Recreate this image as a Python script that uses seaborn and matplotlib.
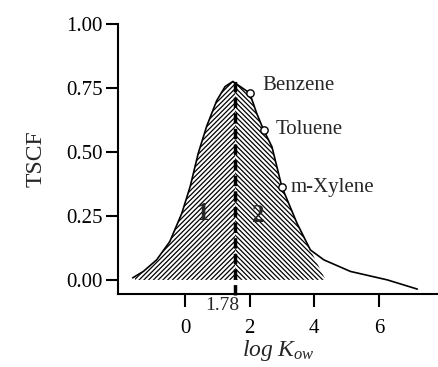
import numpy as np
import pandas as pd
import matplotlib
matplotlib.use('Agg')
import matplotlib.pyplot as plt
import seaborn as sns

# TSCF curve
logk_curve = [-1.62, -1.29, -0.88, -0.47, -0.10, 0.16, 0.41, 0.67, 0.98, 1.24,
              1.48, 1.71, 2.00, 2.22, 2.43, 2.69, 3.00, 3.47, 3.88, 4.30,
              5.12, 6.26, 7.19]
tscf_curve = [0.008, 0.033, 0.078, 0.150, 0.260, 0.365, 0.495, 0.600, 0.700, 0.755,
              0.775, 0.755, 0.730, 0.650, 0.586, 0.520, 0.362, 0.220, 0.117, 0.078,
              0.033, 0.000, -0.036]

# hatched (gaussian) area under the curve
logk_hatch = [-1.55, -1.29, -0.88, -0.47, -0.10, 0.16, 0.41, 0.67, 0.98, 1.24,
              1.48, 1.71, 2.00, 2.22, 2.43, 2.69, 3.00, 3.47, 3.88, 4.35]
tscf_hatch = [0.008, 0.033, 0.078, 0.150, 0.260, 0.365, 0.495, 0.600, 0.700, 0.755,
              0.775, 0.755, 0.730, 0.650, 0.586, 0.520, 0.362, 0.220, 0.117, 0.000]

compounds = ['Benzene', 'Toluene', 'm-Xylene']
logk_pts = [2.00, 2.43, 3.00]
tscf_pts = [0.730, 0.586, 0.362]

peak_x = 1.55
peak_label = '1.78'
peak_y = 0.775

curve = pd.DataFrame({'logKow': logk_curve, 'TSCF': tscf_curve})
pts = pd.DataFrame({'compound': compounds, 'logKow': logk_pts, 'TSCF': tscf_pts})

sns.set_style('ticks')
plt.rcParams['font.family'] = ['Liberation Serif', 'DejaVu Serif']
plt.rcParams['mathtext.fontset'] = 'custom'
plt.rcParams['mathtext.rm'] = 'Liberation Serif'
plt.rcParams['mathtext.it'] = 'Liberation Serif:italic'
plt.rcParams['hatch.linewidth'] = 0.9

fig = plt.figure(figsize=(4.38, 3.67), dpi=100)
ax = fig.add_axes([0.269, 0.199, 0.731, 0.736])

hx = np.array(logk_hatch)
hy = np.array(tscf_hatch)
split_y = np.interp(peak_x, hx, hy)
left = hx < peak_x
ax.fill_between(np.append(hx[left], peak_x), 0, np.append(hy[left], split_y),
                facecolor='white', edgecolor='black', hatch='/' * 7, linewidth=0)
ax.fill_between(np.insert(hx[~left], 0, peak_x), 0, np.insert(hy[~left], 0, split_y),
                facecolor='white', edgecolor='black', hatch='\\' * 7, linewidth=0)

sns.lineplot(data=curve, x='logKow', y='TSCF', color='black', linewidth=1.2, ax=ax, sort=False)
ax.plot([peak_x, peak_x], [-0.06, peak_y], color='black', linewidth=2.5,
        dashes=(3, 1.5), clip_on=False)
sns.scatterplot(data=pts, x='logKow', y='TSCF', marker='o', s=28, facecolor='white',
                edgecolor='black', linewidth=1.0, ax=ax, zorder=5)

for name, x, y, dx in zip(compounds, logk_pts, tscf_pts, [0.39, 0.37, 0.28]):
    ax.text(x + dx, y + (0.03 if name == 'Benzene' else 0.0), name,
            fontsize=15, va='center', ha='left')

ax.text(0.57, 0.26, '1', fontsize=18, fontweight='bold', ha='center', va='center')
ax.text(2.28, 0.25, '2', fontsize=18, fontweight='bold', ha='center', va='center')
ax.text(peak_x + 0.12, -0.1, peak_label, fontsize=14, ha='right', va='center', clip_on=False)

ax.set_xlim(-2.08, 7.83)
ax.set_ylim(-0.055, 1.0)
ax.set_xticks([0, 2, 4, 6])
ax.set_yticks([0.0, 0.25, 0.5, 0.75, 1.0])
ax.set_yticklabels(['0.00', '0.25', '0.50', '0.75', '1.00'])
ax.tick_params(axis='both', direction='out', length=9, width=1.5, labelsize=15,
               colors='black', pad=2)
ax.tick_params(axis='x', pad=9)
ax.set_xlabel(r'$log\ K_{ow}$', fontsize=17, labelpad=0)
ax.set_ylabel('TSCF', fontsize=17, labelpad=14)
for side in ['top', 'right']:
    ax.spines[side].set_visible(False)
for side in ['left', 'bottom']:
    ax.spines[side].set_linewidth(1.5)
    ax.spines[side].set_color('black')

fig.savefig('out.png', dpi=100)
